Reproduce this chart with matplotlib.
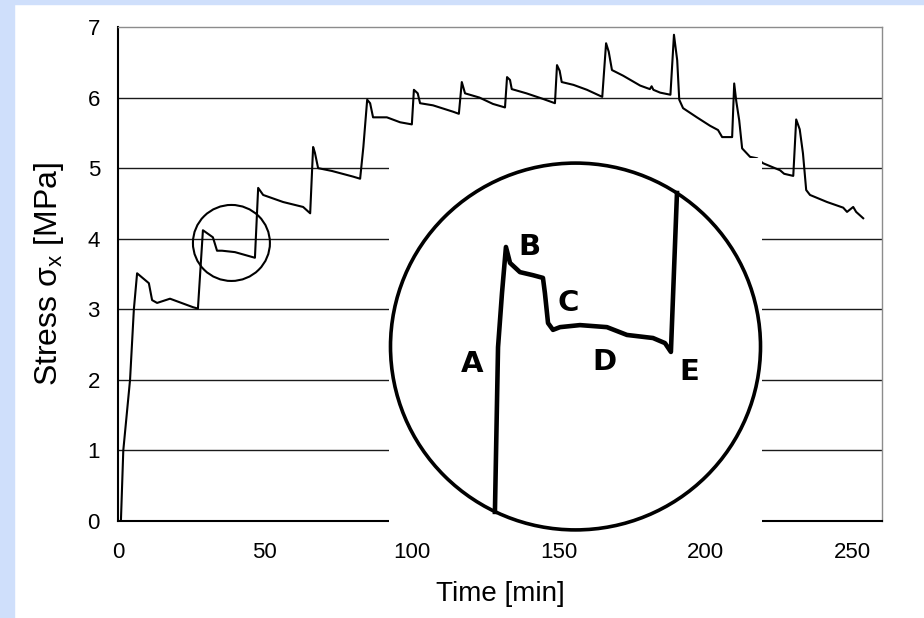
"""
Stress vs time chart with a magnified inset of one relaxation step.
"""

import matplotlib
matplotlib.use('Agg')
import matplotlib.pyplot as plt
from matplotlib.patches import Ellipse, Rectangle

plt.rcParams['font.family'] = ['Liberation Sans', 'DejaVu Sans']
plt.rcParams['mathtext.fontset'] = 'custom'
plt.rcParams['mathtext.rm'] = 'Liberation Sans'
plt.rcParams['mathtext.it'] = 'Liberation Sans:italic'

# ---- data ----
time_min = [1.0, 1.8, 4.1, 5.4, 6.5, 10.5, 11.6, 13.3, 17.7, 25.5, 27.2,
            28.9, 32.3, 33.7, 35.4, 39.8, 46.6, 47.7, 49.4, 56.2, 63.0, 65.4,
            66.4, 67.0, 68.1, 72.8, 80.0, 82.4, 83.5, 84.8, 85.8, 86.8, 91.5,
            96.0, 100.0, 100.7, 102.0, 102.8, 107.2, 114.0, 116.0, 117.0, 118.1,
            123.0, 127.6, 131.7, 132.4, 133.4, 134.0, 139.0, 144.7, 148.7, 149.4,
            150.3, 151.0, 155.0, 159.6, 164.8, 166.1, 167.0, 168.1, 171.9, 177.7,
            181.0, 181.6, 182.2, 184.5, 188.0, 189.2, 190.3, 191.0, 192.3, 197.0,
            201.5, 204.2, 205.6, 209.0, 209.7, 210.4, 211.4, 212.4, 215.1, 217.5,
            219.5, 225.3, 226.7, 229.8, 230.8, 232.0, 233.1, 234.2, 235.5, 241.3,
            246.8, 248.1, 250.2, 251.2, 253.6]
stress_mpa = [0.01, 1.0, 2.0, 3.0, 3.51, 3.37, 3.13, 3.09, 3.15, 3.03, 3.01,
              4.12, 4.02, 3.83, 3.83, 3.81, 3.73, 4.72, 4.62, 4.52, 4.45, 4.36,
              5.30, 5.22, 5.00, 4.96, 4.88, 4.85, 5.30, 5.97, 5.92, 5.72, 5.72,
              5.65, 5.62, 6.11, 6.06, 5.92, 5.89, 5.80, 5.77, 6.22, 6.06,
              6.00, 5.91, 5.86, 6.29, 6.25, 6.12, 6.06, 5.98, 5.92, 6.46,
              6.38, 6.22, 6.18, 6.11, 6.01, 6.77, 6.65, 6.39, 6.31, 6.17,
              6.12, 6.16, 6.11, 6.07, 6.04, 6.89, 6.53, 5.97, 5.85, 5.72,
              5.60, 5.54, 5.44, 5.44, 6.20, 5.95, 5.68, 5.28, 5.16, 5.14,
              5.07, 4.97, 4.92, 4.89, 5.69, 5.55, 5.21, 4.69, 4.62, 4.52,
              4.44, 4.38, 4.45, 4.38, 4.29]

# magnified sketch of the circled step (inset units: min / MPa)
zoom_time = [32.93, 33.15, 33.43, 33.71, 34.0, 34.7, 35.62, 36.33, 36.47, 36.69,
             37.04, 37.54, 38.95, 40.86, 42.28, 44.12, 44.97, 45.39, 45.53, 45.82]
zoom_stress = [3.453, 3.938, 4.097, 4.233, 4.186, 4.159, 4.150, 4.142, 4.097, 4.009,
               3.989, 3.997, 4.003, 3.997, 3.974, 3.965, 3.950, 3.924, 4.077, 4.392]
zoom_labels = ['A', 'B', 'C', 'D', 'E']
zoom_label_time = [31.3, 35.34, 38.1, 40.65, 46.67]
zoom_label_stress = [3.888, 4.233, 4.068, 3.894, 3.865]

x_ticks = [0, 50, 100, 150, 200, 250]
y_ticks = [0, 1, 2, 3, 4, 5, 6, 7]

fig = plt.figure(figsize=(9.24, 6.18), dpi=100)
fig.patch.set_facecolor('white')

# light blue frame strips (left and top)
fig.patches.append(Rectangle((0, 0), 14 / 924, 1, transform=fig.transFigure,
                             color='#CFDFFB', zorder=0))
fig.patches.append(Rectangle((0, 1 - 4 / 618), 1, 4 / 618, transform=fig.transFigure,
                             color='#CFDFFB', zorder=0))

# ===== Main plot =====
ax = fig.add_axes([118 / 924, 1 - 521 / 618, 764 / 924, 494 / 618])
ax.plot(time_min, stress_mpa, color='black', lw=1.5, zorder=3)
ax.add_patch(Ellipse((38.6, 3.94), 26.2, 1.077, fill=False, lw=1.5,
                     edgecolor='black', zorder=3))

ax.set_xlim(0, 260)
ax.set_ylim(0, 7)
ax.set_xticks(x_ticks)
ax.set_yticks(y_ticks)
ax.tick_params(length=0, labelsize=16)
ax.tick_params(axis='y', pad=13)
ax.tick_params(axis='x', pad=15)

ax.set_axisbelow(True)
ax.yaxis.grid(True, color='#1a1a1a', lw=1.0)
ax.get_ygridlines()[-1].set_visible(False)

ax.spines['left'].set_linewidth(1.5)
ax.spines['bottom'].set_linewidth(1.5)
for side in ['top', 'right']:
    ax.spines[side].set_color('#8c8c8c')
    ax.spines[side].set_linewidth(1.0)

ax.set_xlabel('Time [min]', fontsize=20)
ax.xaxis.set_label_coords(0.5, -0.122)
ax.set_ylabel(r'Stress $\mathregular{\sigma_x}$ [MPa]', fontsize=23)
ax.yaxis.set_label_coords(-0.068, 0.5)

# ===== Inset (magnified step) =====
ax_in = fig.add_axes([389 / 924, 1 - 535 / 618, 373 / 924, 377 / 618], zorder=5)
ax_in.set_facecolor('white')
for side in ax_in.spines.values():
    side.set_visible(False)
ax_in.set_xticks([])
ax_in.set_yticks([])
ax_in.set_xlim(25.43, 51.84)
ax_in.set_ylim(3.385, 4.495)

ax_in.add_patch(Ellipse((0.5, 0.5), 0.992, 0.973, transform=ax_in.transAxes,
                        fill=False, lw=2.6, edgecolor='black', clip_on=False))
ax_in.plot(zoom_time, zoom_stress, color='black', lw=3.3, solid_joinstyle='round')
for lab, tx, sy in zip(zoom_labels, zoom_label_time, zoom_label_stress):
    ax_in.text(tx, sy, lab, fontsize=21, fontweight='bold', ha='center', va='center',
               family=['DejaVu Sans'])

plt.savefig('out.png', dpi=100)
